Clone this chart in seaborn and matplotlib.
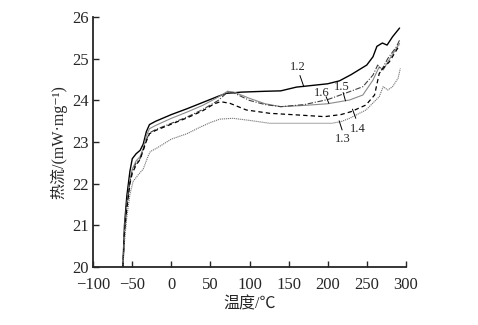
import matplotlib
matplotlib.use("Agg")
import matplotlib.pyplot as plt
import seaborn as sns
import pandas as pd

# ---- data ----
x_12 = [-62, -60, -57, -53, -50, -45, -40, -36, -32, -28, -20, 0, 20, 40, 60, 70, 90, 120, 140, 160, 180, 200, 215, 230, 250, 258, 263, 270, 276, 283, 292]
y_12 = [20.0, 21.0, 21.7, 22.3, 22.6, 22.72, 22.8, 22.95, 23.25, 23.42, 23.5, 23.66, 23.8, 23.95, 24.1, 24.17, 24.2, 24.22, 24.23, 24.32, 24.36, 24.4, 24.47, 24.62, 24.85, 25.05, 25.3, 25.38, 25.33, 25.53, 25.74]

x_16 = [-62, -60, -57, -53, -50, -45, -40, -36, -32, -28, -20, 0, 20, 40, 60, 72, 80, 100, 120, 140, 170, 200, 228, 245, 258, 266, 271, 277, 292]
y_16 = [20.0, 20.9, 21.5, 22.1, 22.35, 22.55, 22.65, 22.85, 23.15, 23.32, 23.4, 23.57, 23.72, 23.88, 24.08, 24.22, 24.2, 24.05, 23.92, 23.85, 23.88, 23.92, 24.01, 24.13, 24.49, 24.81, 24.73, 24.93, 25.37]

x_15 = [-62, -60, -57, -53, -50, -45, -40, -36, -32, -28, -20, 0, 20, 40, 60, 72, 80, 100, 120, 140, 170, 200, 228, 245, 258, 264, 269, 277, 288, 292]
y_15 = [20.0, 20.85, 21.45, 22.05, 22.3, 22.5, 22.6, 22.82, 23.05, 23.22, 23.3, 23.45, 23.6, 23.78, 24.0, 24.2, 24.18, 24.0, 23.9, 23.85, 23.9, 24.02, 24.21, 24.33, 24.61, 24.85, 24.73, 25.01, 25.29, 25.45]

x_14 = [-62, -60, -57, -53, -50, -45, -40, -36, -32, -28, -20, 0, 20, 40, 55, 63, 75, 96, 126, 162, 196, 217, 230, 249, 260, 266, 271, 279, 292]
y_14 = [20.0, 20.8, 21.4, 22.0, 22.25, 22.45, 22.58, 22.8, 23.02, 23.2, 23.28, 23.43, 23.58, 23.75, 23.92, 23.97, 23.93, 23.77, 23.69, 23.65, 23.61, 23.66, 23.73, 23.89, 24.13, 24.65, 24.77, 24.93, 25.33]

x_13 = [-62, -60, -57, -53, -49, -43, -36, -30, -27, -19, 0, 20, 36, 50, 62, 79, 100, 126, 162, 205, 217, 228, 249, 266, 271, 277, 283, 290, 293]
y_13 = [20.0, 20.6, 21.2, 21.75, 22.05, 22.2, 22.35, 22.65, 22.77, 22.85, 23.07, 23.2, 23.35, 23.47, 23.55, 23.57, 23.52, 23.45, 23.45, 23.45, 23.49, 23.57, 23.77, 24.09, 24.33, 24.25, 24.33, 24.53, 24.77]

x_ticks = [-100, -50, 0, 50, 100, 150, 200, 250, 300]
y_ticks = [20, 21, 22, 23, 24, 25, 26]

labels = ["1.2", "1.6", "1.5", "1.4", "1.3"]
label_text_pos = [(162, 24.81), (192, 24.19), (217.7, 24.32), (239, 23.31), (219.8, 23.07)]
leader_start = [(164.5, 24.6), (198, 24.09), (219.8, 24.19), (236, 23.57), (218.5, 23.29)]
leader_end = [(169.5, 24.33), (201.5, 23.93), (222.8, 23.99), (231.7, 23.79), (214.7, 23.51)]

# ---- styling ----
sns.set_style("ticks")
plt.rcParams["font.family"] = ["Liberation Serif", "Noto Sans CJK SC", "DejaVu Sans"]
plt.rcParams["axes.unicode_minus"] = True

fig = plt.figure(figsize=(4.78, 3.25), dpi=100)
ax = fig.add_axes([0.195, 0.179, 0.654, 0.768])

series = [
    (x_12, y_12, dict(color="black", linewidth=1.0, linestyle="-")),
    (x_16, y_16, dict(color="#8a8a8a", linewidth=0.8, linestyle="-")),
    (x_15, y_15, dict(color="#404040", linewidth=0.8, linestyle=(0, (5, 1.5, 1, 1.5)))),
    (x_14, y_14, dict(color="black", linewidth=0.9, linestyle=(0, (3.5, 2.5)))),
    (x_13, y_13, dict(color="#707070", linewidth=0.8, linestyle=(0, (1, 0.8)))),
]
for xs, ys, st in series:
    df = pd.DataFrame({"x": xs, "y": ys})
    sns.lineplot(data=df, x="x", y="y", ax=ax, sort=False, estimator=None, **st)

for lab, tp, ls, le in zip(labels, label_text_pos, leader_start, leader_end):
    ax.text(tp[0], tp[1], lab, fontsize=9, ha="center", va="center")
    ax.plot([ls[0], le[0]], [ls[1], le[1]], color="black", linewidth=0.7)

ax.set_xlim(-100, 300)
ax.set_ylim(20, 26)
ax.set_xticks(x_ticks)
ax.set_yticks(y_ticks)
ax.tick_params(direction="in", length=4, width=1.0, labelsize=12)
ax.tick_params(axis="x", pad=7)
ax.tick_params(axis="y", pad=3)
for sp in ["top", "right"]:
    ax.spines[sp].set_visible(False)
for sp in ["left", "bottom"]:
    ax.spines[sp].set_linewidth(1.3)

ax.set_xlabel("温度/℃", fontsize=11.5, labelpad=3)
ax.set_ylabel("热流/(mW·mg⁻¹)", fontsize=11.5, labelpad=4)

fig.savefig("out.png", dpi=100)
